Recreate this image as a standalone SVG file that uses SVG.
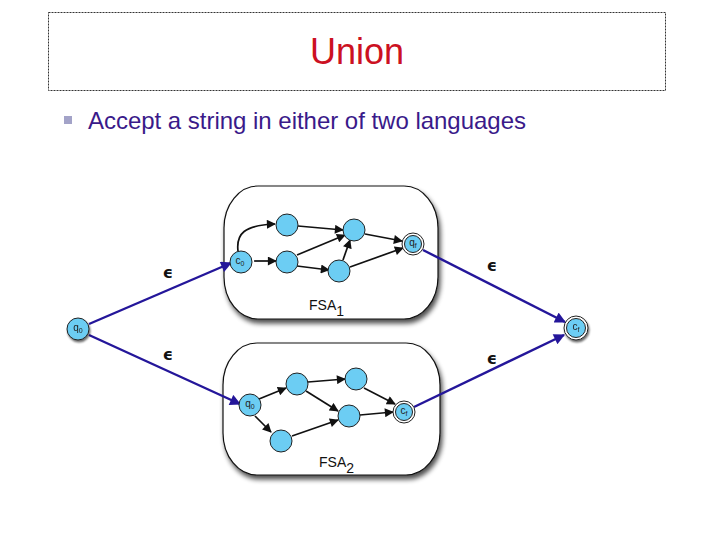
<svg xmlns="http://www.w3.org/2000/svg" width="720" height="540" viewBox="0 0 720 540">
<defs>
<style>
.st{fill:#6ccdf3;stroke:#222;stroke-width:1}
.lb{font-family:"Liberation Sans",Arial,sans-serif;font-size:10px;fill:#222}
.sb{font-size:7px}
.e{stroke:#111;stroke-width:1.7;fill:none;marker-end:url(#ab)}
.o{stroke:#24169a;stroke-width:2.4;fill:none;marker-end:url(#an)}
.eps{font-family:"DejaVu Sans",sans-serif;font-size:16px;font-weight:bold;fill:#111}
.box{fill:#fff;stroke:#111;stroke-width:1.2}
.fsa{font-family:"Liberation Sans",Arial,sans-serif;font-size:14px;fill:#111}
</style>
<marker id="ab" viewBox="0 0 10 10" refX="9" refY="5" markerWidth="10" markerHeight="9" markerUnits="userSpaceOnUse" orient="auto"><path d="M0,0L10,5L0,10z" fill="#111"/></marker>
<marker id="an" viewBox="0 0 10 10" refX="9" refY="5" markerWidth="12" markerHeight="11" markerUnits="userSpaceOnUse" orient="auto"><path d="M0,0L10,5L0,10z" fill="#24169a"/></marker>
<filter id="sh" x="-10%" y="-10%" width="125%" height="130%"><feGaussianBlur in="SourceAlpha" stdDeviation="2.5"/><feOffset dx="2" dy="4"/><feComponentTransfer><feFuncA type="linear" slope="0.7"/></feComponentTransfer><feMerge><feMergeNode/><feMergeNode in="SourceGraphic"/></feMerge></filter>
<filter id="ns" x="-40%" y="-40%" width="190%" height="190%"><feGaussianBlur in="SourceAlpha" stdDeviation="1.2"/><feOffset dx="1" dy="2"/><feComponentTransfer><feFuncA type="linear" slope="0.6"/></feComponentTransfer><feMerge><feMergeNode/><feMergeNode in="SourceGraphic"/></feMerge></filter>
</defs>
<rect width="720" height="540" fill="#fff"/>
<g id="title">
<rect x="48.5" y="12.5" width="617" height="78" fill="none" stroke="#333" stroke-width="1" stroke-dasharray="2,1"/>
<text x="357" y="64" text-anchor="middle" font-family="Liberation Sans,Arial,sans-serif" font-size="36" fill="#cc1122">Union</text>
</g>
<g id="bullet">
<rect x="64" y="116" width="8" height="8" fill="#a3a3c8"/>
<text x="88" y="129" font-family="Liberation Sans,Arial,sans-serif" font-size="24" textLength="438" fill="#3a1a8a">Accept a string in either of two languages</text>
</g>
<g id="fsa1">
<rect class="box" x="224" y="186" width="214" height="133" rx="34" ry="42" filter="url(#sh)"/>
<text class="fsa" x="309" y="310">FSA<tspan dy="6">1</tspan></text>
</g>
<g id="fsa2">
<rect class="box" x="223" y="343" width="217" height="132" rx="34" ry="42" filter="url(#sh)"/>
<text class="fsa" x="319" y="467">FSA<tspan dy="6">2</tspan></text>
</g>
<g id="connectors">
<path class="e" d="M238,251 C236,234 244,225 275,224"/>
<path class="e" d="M254,261 L276,261"/>
<path class="e" d="M298,226 L343,230"/>
<path class="e" d="M297,255 L345,235"/>
<path class="e" d="M297,266 L329,270"/>
<path class="e" d="M343,260 L350,240"/>
<path class="e" d="M365,234 L402,241"/>
<path class="e" d="M350,267 L403,248"/>
<path class="e" d="M259,399 L286,388"/>
<path class="e" d="M255,416 L271,432"/>
<path class="e" d="M308,382 L345,379"/>
<path class="e" d="M306,391 L338,411"/>
<path class="e" d="M292,436 L338,420"/>
<path class="e" d="M364,388 L395,404"/>
<path class="e" d="M360,415 L393,412"/>
<path class="o" d="M89,324 L231,263"/>
<path class="o" d="M89,335 L240,404"/>
<path class="o" d="M423,250 L565,322"/>
<path class="o" d="M414,407 L564,335"/>
<text class="eps" x="168" y="278" text-anchor="middle">ϵ</text>
<text class="eps" x="168" y="360" text-anchor="middle">ϵ</text>
<text class="eps" x="492" y="271" text-anchor="middle">ϵ</text>
<text class="eps" x="492" y="364" text-anchor="middle">ϵ</text>
</g>
<g id="n_q0" filter="url(#ns)"><circle class="st" cx="78" cy="329" r="11"/><text class="lb" x="78" y="331" text-anchor="middle">q<tspan class="sb" dy="2">0</tspan></text></g>
<g id="n_cf" filter="url(#ns)"><circle cx="576" cy="328" r="12" fill="#fff" stroke="#222"/><circle class="st" cx="576" cy="328" r="9.5"/><text class="lb" x="576" y="330" text-anchor="middle">c<tspan class="sb" dy="2">f</tspan></text></g>
<g id="n1_c0"><circle class="st" cx="241" cy="262" r="11"/><text class="lb" x="240" y="264" text-anchor="middle">c<tspan class="sb" dy="2">0</tspan></text></g>
<g id="n1_a"><circle class="st" cx="287" cy="225" r="11"/></g>
<g id="n1_b"><circle class="st" cx="287" cy="262" r="11"/></g>
<g id="n1_c"><circle class="st" cx="354" cy="230" r="11"/></g>
<g id="n1_d"><circle class="st" cx="339" cy="271" r="11"/></g>
<g id="n1_qf"><circle cx="413" cy="244" r="11" fill="#fff" stroke="#222"/><circle class="st" cx="413" cy="244" r="8.5"/><text class="lb" x="413" y="246" text-anchor="middle">q<tspan class="sb" dy="2">f</tspan></text></g>
<g id="n2_q0"><circle class="st" cx="250" cy="405" r="11"/><text class="lb" x="250" y="407" text-anchor="middle">q<tspan class="sb" dy="2">0</tspan></text></g>
<g id="n2_e"><circle class="st" cx="297" cy="384" r="11"/></g>
<g id="n2_f"><circle class="st" cx="356" cy="379" r="11"/></g>
<g id="n2_g"><circle class="st" cx="281" cy="441" r="11"/></g>
<g id="n2_h"><circle class="st" cx="349" cy="416" r="11"/></g>
<g id="n2_cf"><circle cx="404" cy="412" r="11" fill="#fff" stroke="#222"/><circle class="st" cx="404" cy="412" r="8.5"/><text class="lb" x="404" y="414" text-anchor="middle">c<tspan class="sb" dy="2">f</tspan></text></g>
</svg>
